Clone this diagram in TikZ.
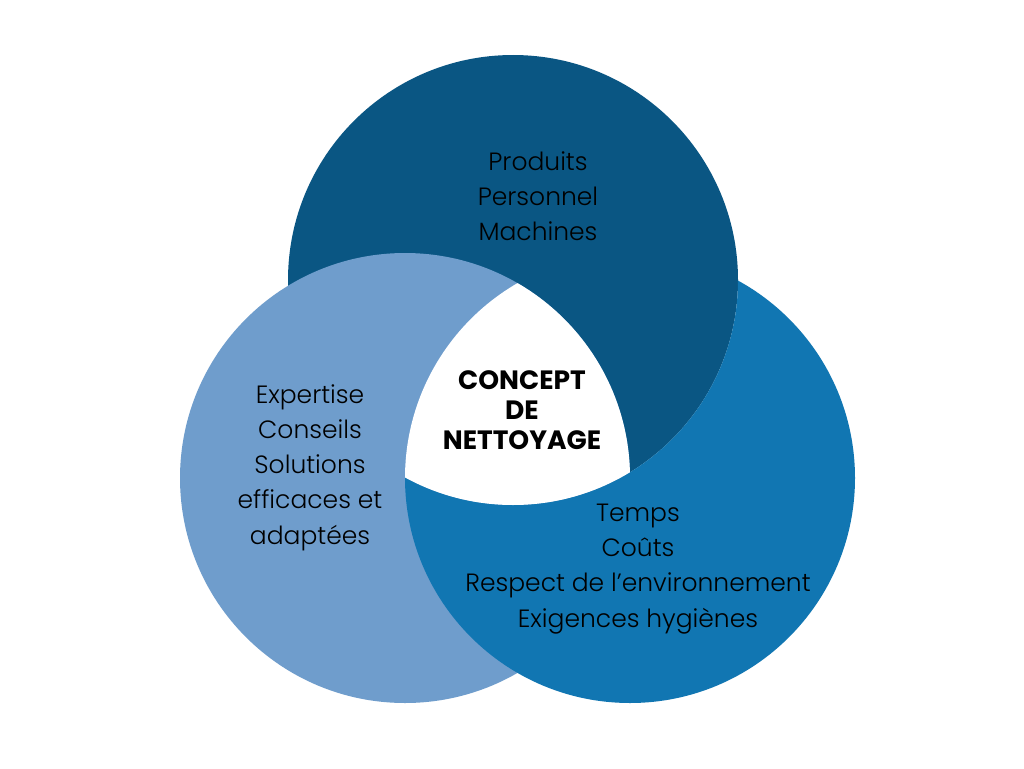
\documentclass[tikz,border=0pt]{standalone}
\usepackage{fontspec}
\setmainfont{Poppins}[UprightFont=* Light, BoldFont=* Bold]
\definecolor{cdark}{HTML}{0A5683}
\definecolor{cmid}{HTML}{1176B2}
\definecolor{clight}{HTML}{6F9DCC}
\tikzset{
  lbl/.style={align=center, font=\fontsize{25}{35.2}\selectfont, text=black, inner sep=0pt},
  ttl/.style={align=center, font=\bfseries\fontsize{26.5}{30}\selectfont, text=black, inner sep=0pt}
}
\begin{document}
\begin{tikzpicture}[x=1pt,y=-1pt]
\useasboundingbox (0,0) rectangle (1024,768);
\fill[white] (0,0) rectangle (1024,768);
\def\rr{225}
\coordinate (T) at (513,280);
\coordinate (L) at (405,478);
\coordinate (R) at (630,478);
\fill[cdark] (T) circle (\rr);
\fill[clight] (L) circle (\rr);
\begin{scope}[even odd rule]
  \clip (T) circle (\rr) (-10,-10) rectangle (1040,790);
  \fill[cmid] (R) circle (\rr);
\end{scope}
\begin{scope}
  \clip (L) circle (\rr);
  \clip (T) circle (\rr);
  \fill[white] (R) circle (\rr);
\end{scope}
\node[lbl] (top) at (538,196) {Produits\\Personnel\\Machines};
\node[lbl] (left) at (310,467.5) {Expertise\\Conseils\\Solutions\\efficaces et\\adaptées};
\node[lbl] (right) at (638,569) {Temps\\Coûts\\Respect de l’environnement\\Exigences hygiènes};
\node[ttl] (ctr) at (522,410.5) {CONCEPT\\DE\\NETTOYAGE};
\end{tikzpicture}
\end{document}
